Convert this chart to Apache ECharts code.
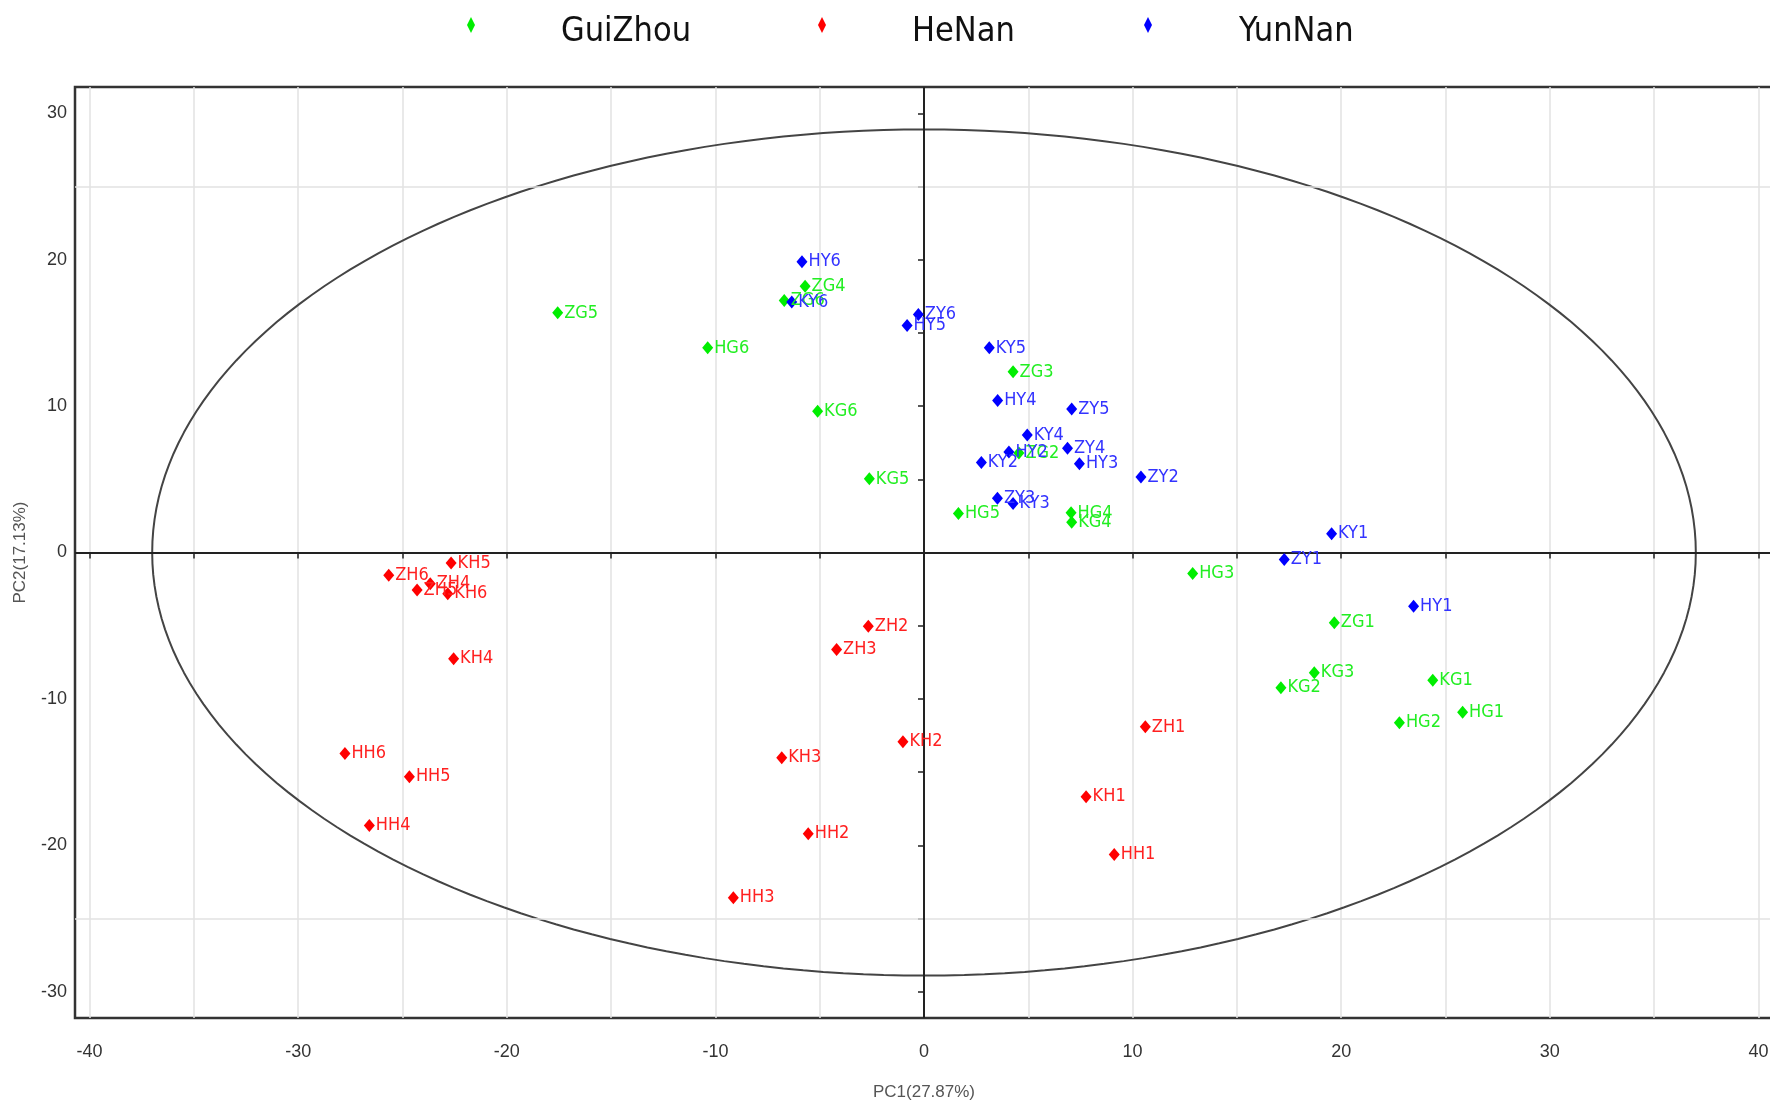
<!DOCTYPE html>
<html><head><meta charset="utf-8">
<script src="https://cdn.jsdelivr.net/npm/echarts@6/dist/echarts.min.js"></script>
<style>html,body{margin:0;padding:0;background:#fff}#c{width:1770px;height:1102px}</style>
</head><body><div id="c"></div>
<script>
// ---- data ----
const groupNames = ['GuiZhou', 'HeNan', 'YunNan'];

const guizhouNames = ['ZG1','ZG2','ZG3','ZG4','ZG5','ZG6','HG1','HG2','HG3','HG4','HG5','HG6','KG1','KG2','KG3','KG4','KG5','KG6'];
const guizhouPC1 = [19.67, 4.55, 4.27, -5.70, -17.56, -6.70, 25.82, 22.79, 12.88, 7.05, 1.65, -10.37, 24.39, 17.11, 18.71, 7.08, -2.62, -5.10];
const guizhouPC2 = [-4.80, 6.80, 12.34, 18.19, 16.37, 17.21, -10.91, -11.63, -1.43, 2.71, 2.66, 13.98, -8.72, -9.24, -8.22, 2.07, 5.03, 9.65];

const henanNames = ['ZH1','ZH2','ZH3','ZH4','ZH5','ZH6','HH1','HH2','HH3','HH4','HH5','HH6','KH1','KH2','KH3','KH4','KH5','KH6'];
const henanPC1 = [10.61, -2.67, -4.19, -23.67, -24.30, -25.66, 9.12, -5.55, -9.14, -26.59, -24.67, -27.76, 7.77, -1.01, -6.82, -22.55, -22.67, -22.83];
const henanPC2 = [-11.91, -5.03, -6.63, -2.14, -2.57, -1.55, -20.63, -19.21, -23.59, -18.65, -15.32, -13.73, -16.69, -12.93, -14.02, -7.26, -0.71, -2.82];

const yunnanNames = ['ZY1','ZY2','ZY3','ZY4','ZY5','ZY6','HY1','HY2','HY3','HY4','HY5','HY6','KY1','KY2','KY3','KY4','KY5','KY6'];
const yunnanPC1 = [17.27, 10.40, 3.52, 6.88, 7.08, -0.27, 23.47, 4.07, 7.45, 3.53, -0.81, -5.85, 19.54, 2.75, 4.27, 4.95, 3.13, -6.34];
const yunnanPC2 = [-0.48, 5.15, 3.70, 7.12, 9.81, 16.26, -3.67, 6.87, 6.06, 10.38, 15.50, 19.86, 1.28, 6.15, 3.35, 8.03, 13.98, 17.12];

const xTickValues = [-40,-35,-30,-25,-20,-15,-10,-5,0,5,10,15,20,25,30,35,40];
const xLabelValues = [-40,-30,-20,-10,0,10,20,30,40];
const yTickValues = [-30,-25,-20,-15,-10,-5,0,5,10,15,20,25,30];
const yLabelValues = [-30,-20,-10,0,10,20,30];
const hGridValues = [-25, 25];

const xAxisTitle = 'PC1(27.87%)';
const yAxisTitle = 'PC2(17.13%)';

// confidence ellipse semi-axes (PC units)
const ellipseA = 37.0;
const ellipseB = 28.9;

// ---- build ----
const NARROW = "'Liberation Sans Narrow','Arial Narrow','DejaVu Sans Condensed','Liberation Sans',sans-serif";
const REG = "'Liberation Sans',Arial,sans-serif";
const colors = { GuiZhou: '#00ee00', HeNan: '#ff0000', YunNan: '#0000ff' };
const labelColors = { GuiZhou: '#22ee22', HeNan: '#ff2020', YunNan: '#3333ff' };

function pts(names, xs, ys) {
  return names.map((n, i) => ({ name: n, value: [xs[i], ys[i]] }));
}
const seriesData = {
  GuiZhou: pts(guizhouNames, guizhouPC1, guizhouPC2),
  HeNan: pts(henanNames, henanPC1, henanPC2),
  YunNan: pts(yunnanNames, yunnanPC1, yunnanPC2)
};

const ellipsePts = [];
for (let i = 0; i <= 240; i++) {
  const t = (i / 240) * Math.PI * 2;
  ellipsePts.push([ellipseA * Math.cos(t), ellipseB * Math.sin(t)]);
}

const chart = echarts.init(document.getElementById('c'), null, { renderer: 'canvas' });

// legend: icons and texts placed as separate legend components
const iconLefts = [461, 812, 1138];
const textLefts = [551, 902, 1229];
const iconLegends = groupNames.map((g, i) => ({
  data: [g],
  left: iconLefts[i],
  top: 12,
  icon: 'path://M5,0L10,10L5,20L0,10Z',
  itemWidth: 10,
  itemHeight: 16,
  formatter: () => '',
  textStyle: { fontSize: 1 }
}));
const textLegends = groupNames.map((g, i) => ({
  data: [g],
  left: textLefts[i],
  top: 10,
  icon: 'none',
  itemWidth: 0,
  itemHeight: 10,
  textStyle: { fontFamily: NARROW, fontSize: 34, color: '#111' }
}));

const scatterSeries = groupNames.map(g => ({
  name: g,
  type: 'scatter',
  data: seriesData[g],
  symbol: 'diamond',
  symbolSize: [11, 13],
  itemStyle: { color: colors[g], opacity: 1 },
  label: {
    show: true,
    position: 'right',
    distance: 1,
    formatter: p => p.name,
    color: labelColors[g],
    fontFamily: NARROW,
    fontSize: 18
  },
  z: 5
}));

const option = {
  backgroundColor: '#fff',
  animation: false,
  legend: [...iconLegends, ...textLegends],
  grid: {
    left: 75, top: 87, right: -3, bottom: 84,
    outerBoundsMode: 'none', containLabel: false,
    show: true, borderColor: '#333', borderWidth: 2.5, backgroundColor: 'transparent'
  },
  xAxis: {
    type: 'value', min: -40.7, max: 40.7,
    name: xAxisTitle, nameLocation: 'middle', nameGap: 66,
    nameTextStyle: { fontFamily: REG, fontSize: 17, color: '#555' },
    axisLine: { show: false },
    axisTick: { show: true, inside: false, length: 6, customValues: xTickValues, lineStyle: { color: '#222', width: 1.5 } },
    axisLabel: { customValues: xLabelValues, margin: 25, fontFamily: REG, fontSize: 18, color: '#333' },
    splitLine: { show: true, lineStyle: { color: '#e2e2e2', width: 1.5 } }
  },
  yAxis: {
    type: 'value', min: -31.8, max: 31.8,
    name: yAxisTitle, nameLocation: 'middle', nameGap: 46, nameRotate: 90,
    nameTextStyle: { fontFamily: REG, fontSize: 17, color: '#555' },
    axisLine: { show: false },
    axisTick: { show: true, inside: false, length: 6, customValues: yTickValues, lineStyle: { color: '#222', width: 1.5 } },
    axisLabel: { customValues: yLabelValues, margin: 8, fontFamily: REG, fontSize: 18, color: '#333' },
    splitLine: { show: false }
  },
  series: [
    {
      name: 'hgrid', type: 'line', data: [], silent: true, z: 1,
      markLine: {
        silent: true, symbol: 'none', label: { show: false },
        lineStyle: { color: '#e2e2e2', width: 1.5, type: 'solid' },
        data: hGridValues.map(v => ({ yAxis: v }))
      }
    },
    {
      name: 'ellipse', type: 'line', data: ellipsePts, showSymbol: false, smooth: false,
      silent: true, lineStyle: { color: '#444', width: 2 }, z: 2,
      markLine: {
        silent: true, symbol: 'none', label: { show: false },
        lineStyle: { color: '#222', width: 2, type: 'solid' },
        data: [{ xAxis: 0 }, { yAxis: 0 }]
      }
    },
    ...scatterSeries
  ]
};
chart.setOption(option);
</script></body></html>
